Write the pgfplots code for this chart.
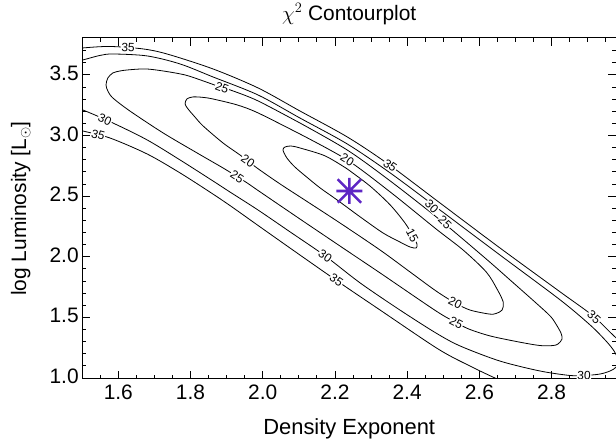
\documentclass[border=0pt]{standalone}
\usepackage{fontspec}
\setmainfont{Liberation Sans}
\usepackage{pgfplots}
\pgfplotsset{compat=1.18}
\definecolor{bestfit}{RGB}{94,38,196}

% eight-armed asterisk for the best-fit point
\pgfdeclareplotmark{asterisk8}{%
  \pgfpathmoveto{\pgfqpoint{-\pgfplotmarksize}{0pt}}%
  \pgfpathlineto{\pgfqpoint{\pgfplotmarksize}{0pt}}%
  \pgfpathmoveto{\pgfqpoint{0pt}{-\pgfplotmarksize}}%
  \pgfpathlineto{\pgfqpoint{0pt}{\pgfplotmarksize}}%
  \pgfpathmoveto{\pgfqpoint{-0.9\pgfplotmarksize}{-0.9\pgfplotmarksize}}%
  \pgfpathlineto{\pgfqpoint{0.9\pgfplotmarksize}{0.9\pgfplotmarksize}}%
  \pgfpathmoveto{\pgfqpoint{-0.9\pgfplotmarksize}{0.9\pgfplotmarksize}}%
  \pgfpathlineto{\pgfqpoint{0.9\pgfplotmarksize}{-0.9\pgfplotmarksize}}%
  \pgfusepathqstroke}

\tikzset{clabel/.style={fill=white, inner sep=0.6bp, font=\fontsize{12}{12}\selectfont}}
\pgfplotsset{contour/.style={black, line width=0.8bp, smooth, mark=none}}

\begin{document}
\begin{tikzpicture}
\useasboundingbox (0,0) rectangle (616bp,446bp);
\begin{axis}[
  at={(82.2bp,67bp)}, anchor=south west,
  scale only axis, width=534bp, height=341bp,
  xmin=1.5, xmax=2.979, ymin=0.991, ymax=3.804,
  axis line style={line width=1bp},
  tick align=inside, major tick length=8bp, minor tick length=4bp,
  tick style={black, line width=0.8bp},
  xtick={1.6,1.8,2.0,2.2,2.4,2.6,2.8},
  minor xtick={1.55,1.65,1.7,1.75,1.85,1.9,1.95,2.05,2.1,2.15,2.25,2.3,2.35,2.45,2.5,2.55,2.65,2.7,2.75,2.85,2.9,2.95},
  ytick={1.0,1.5,2.0,2.5,3.0,3.5},
  minor ytick={1.1,1.2,1.3,1.4,1.6,1.7,1.8,1.9,2.1,2.2,2.3,2.4,2.6,2.7,2.8,2.9,3.1,3.2,3.3,3.4,3.6,3.7},
  /pgf/number format/assume math mode=true,
  xticklabel style={/pgf/number format/fixed,/pgf/number format/precision=1,/pgf/number format/fixed zerofill,
    anchor=center, yshift=-13bp},
  yticklabel style={/pgf/number format/fixed,/pgf/number format/precision=1,/pgf/number format/fixed zerofill,
    yshift=1.5bp},
  tick label style={font=\fontsize{21}{21}\selectfont},
  xlabel={Density Exponent},
  ylabel={log Luminosity [L$_\odot$]},
  xlabel style={at={(axis description cs:0.5,-0.145)}, anchor=center, font=\fontsize{22}{22}\selectfont},
  ylabel style={at={(axis description cs:-0.115,0.5)}, anchor=center, font=\fontsize{21}{21}\selectfont},
  title={$\chi^2$ Contourplot},
  title style={at={(axis description cs:0.5,1.07)}, anchor=center, yshift=-6bp, font=\fontsize{21}{21}\selectfont},
]
% chi^2 = 35, upper branch
\addplot[contour] coordinates {(1.425,3.697) (1.502,3.722) (1.577,3.734) (1.668,3.714) (1.735,3.672) (1.862,3.549)
  (1.987,3.392) (2.103,3.202) (2.234,2.988) (2.347,2.765) (2.491,2.443) (2.657,2.072) (2.824,1.709)
  (2.915,1.511) (2.979,1.329) (3.045,1.164)};
% chi^2 = 35, lower branch
\addplot[contour] coordinates {(1.425,3.095) (1.502,3.037) (1.577,2.979) (1.680,2.847) (1.771,2.691) (1.862,2.517)
  (1.915,2.410) (1.993,2.245) (2.103,2.014) (2.206,1.800) (2.325,1.560) (2.486,1.238) (2.574,1.098)
  (2.649,0.991) (2.740,0.867)};
% chi^2 = 30
\addplot[contour] coordinates {(1.425,3.565) (1.502,3.623) (1.549,3.660) (1.585,3.672) (1.680,3.656) (1.771,3.590)
  (1.862,3.483) (1.987,3.334) (2.103,3.144) (2.234,2.930) (2.353,2.691) (2.491,2.385) (2.657,2.014)
  (2.824,1.643) (2.907,1.436) (2.951,1.304) (2.973,1.222) (2.984,1.148) (2.979,1.090) (2.962,1.057)
  (2.934,1.032) (2.893,1.020) (2.851,1.020) (2.768,1.057) (2.657,1.139) (2.547,1.263) (2.480,1.370)
  (2.380,1.560) (2.270,1.783) (2.173,2.006) (2.076,2.204) (1.987,2.385) (1.909,2.534) (1.862,2.625)
  (1.771,2.798) (1.680,2.963) (1.585,3.103) (1.502,3.210) (1.425,3.293)};
% chi^2 = 25
\addplot[contour] coordinates {(2.103,3.103) (2.234,2.880) (2.353,2.625) (2.491,2.303) (2.619,1.981) (2.685,1.808)
  (2.757,1.618) (2.796,1.511) (2.812,1.445) (2.826,1.370) (2.829,1.321) (2.818,1.280) (2.804,1.267)
  (2.768,1.267) (2.710,1.296) (2.630,1.346) (2.571,1.403) (2.533,1.461) (2.480,1.552) (2.325,1.866)
  (2.214,2.088) (2.103,2.311) (1.993,2.534) (1.957,2.608) (1.926,2.666) (1.890,2.732) (1.818,2.856)
  (1.724,3.021) (1.632,3.202) (1.585,3.309) (1.571,3.367) (1.566,3.417) (1.571,3.474) (1.585,3.516)
  (1.605,3.532) (1.624,3.540) (1.674,3.549) (1.724,3.532) (1.785,3.499) (1.835,3.450) (1.882,3.400)
  (1.918,3.367) (1.987,3.285) (2.103,3.103)};
% chi^2 = 20
\addplot[contour] coordinates {(2.103,3.012) (2.234,2.798) (2.353,2.534) (2.480,2.229) (2.555,2.055) (2.619,1.874)
  (2.649,1.733) (2.666,1.626) (2.663,1.560) (2.646,1.531) (2.627,1.527) (2.574,1.560) (2.533,1.618)
  (2.480,1.717) (2.408,1.874) (2.325,2.055) (2.214,2.278) (2.125,2.451) (2.048,2.600) (1.984,2.732)
  (1.937,2.839) (1.890,2.938) (1.835,3.078) (1.812,3.153) (1.793,3.219) (1.785,3.260) (1.790,3.301)
  (1.807,3.318) (1.835,3.314) (1.862,3.301) (1.929,3.252) (1.987,3.186) (2.103,3.012)};
% chi^2 = 15
\addplot[contour] coordinates {(2.234,2.724) (2.297,2.583) (2.353,2.427) (2.394,2.278) (2.416,2.171) (2.427,2.105)
  (2.425,2.072) (2.408,2.080) (2.380,2.121) (2.333,2.196) (2.270,2.328) (2.206,2.468) (2.159,2.567)
  (2.125,2.649) (2.089,2.740) (2.067,2.814) (2.056,2.880) (2.062,2.905) (2.078,2.913) (2.103,2.897)
  (2.173,2.831) (2.234,2.724)};

% contour level labels
\node[clabel, rotate=-2]  at (axis cs:1.627,3.728) {35};
\node[clabel, rotate=-20] at (axis cs:1.887,3.392) {25};
\node[clabel, rotate=-25] at (axis cs:1.563,3.132) {30};
\node[clabel, rotate=-15] at (axis cs:1.544,3.004) {35};
\node[clabel, rotate=-35] at (axis cs:1.959,2.790) {20};
\node[clabel, rotate=-33] at (axis cs:1.929,2.661) {25};
\node[clabel, rotate=-32] at (axis cs:2.234,2.798) {20};
\node[clabel, rotate=-35] at (axis cs:2.353,2.752) {35};
\node[clabel, rotate=-45] at (axis cs:2.468,2.414) {30};
\node[clabel, rotate=-45] at (axis cs:2.505,2.285) {25};
\node[clabel, rotate=-62] at (axis cs:2.414,2.175) {15};
\node[clabel, rotate=-35] at (axis cs:2.173,2.006) {30};
\node[clabel, rotate=-35] at (axis cs:2.204,1.805) {35};
\node[clabel, rotate=-27] at (axis cs:2.533,1.618) {20};
\node[clabel, rotate=-27] at (axis cs:2.536,1.457) {25};
\node[clabel, rotate=-42] at (axis cs:2.918,1.502) {35};
\node[clabel, rotate=-3]  at (axis cs:2.890,1.020) {30};

% best-fit point
\addplot[bestfit, line width=2.6bp, mark=asterisk8, mark size=13bp, only marks]
  coordinates {(2.240,2.542)};
\end{axis}
\end{tikzpicture}
\end{document}
